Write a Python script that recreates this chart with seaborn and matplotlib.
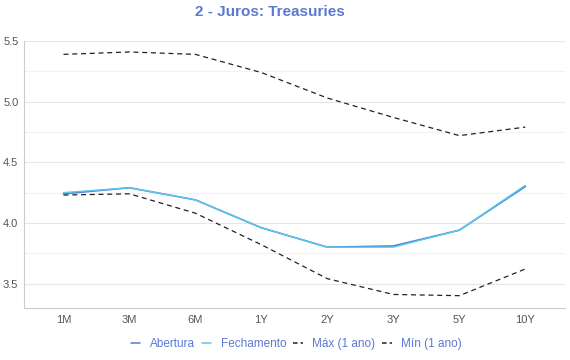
import matplotlib
matplotlib.use("Agg")
import matplotlib.pyplot as plt
import seaborn as sns
import pandas as pd
from matplotlib.ticker import MultipleLocator

categories = ["1M", "3M", "6M", "1Y", "2Y", "3Y", "5Y", "10Y"]
abertura = [4.24, 4.29, 4.19, 3.96, 3.80, 3.81, 3.94, 4.30]
fechamento = [4.25, 4.29, 4.19, 3.96, 3.80, 3.80, 3.94, 4.31]
maximo = [5.39, 5.41, 5.39, 5.24, 5.03, 4.87, 4.72, 4.79]
minimo = [4.23, 4.24, 4.08, 3.82, 3.54, 3.41, 3.40, 3.62]
series_names = ["Abertura", "Fechamento", "Máx (1 ano)", "Mín (1 ano)"]

rows = []
for name, vals in zip(series_names, [abertura, fechamento, maximo, minimo]):
    for i, (c, v) in enumerate(zip(categories, vals)):
        rows.append({"pos": i, "cat": c, "value": v, "serie": name})
df = pd.DataFrame(rows)

sns.set_style("white")
plt.rcParams["font.family"] = ["Liberation Sans", "DejaVu Sans"]

fig = plt.figure(figsize=(5.7, 3.6), dpi=100)
ax = fig.add_axes([0.042, 0.145, 0.949, 0.741])

palette = {"Abertura": "#4f7fd8", "Fechamento": "#5cc8ea",
           "Máx (1 ano)": "#222222", "Mín (1 ano)": "#222222"}
dashes = {"Abertura": "", "Fechamento": "", "Máx (1 ano)": (4, 3), "Mín (1 ano)": (4, 3)}
sizes = {"Abertura": 1.2, "Fechamento": 1.0, "Máx (1 ano)": 0.9, "Mín (1 ano)": 0.9}

sns.lineplot(data=df, x="pos", y="value", hue="serie", style="serie",
             size="serie", sizes=sizes, palette=palette, dashes=dashes,
             markers=False, ax=ax, legend=False, zorder=3)

ax.set_xlim(-0.6, 7.6)
ax.set_ylim(3.3, 5.5)
ax.set_xticks(range(len(categories)))
ax.set_xticklabels(categories)
ax.yaxis.set_major_locator(MultipleLocator(0.5))
ax.yaxis.set_minor_locator(MultipleLocator(0.25))
ax.yaxis.set_major_formatter(matplotlib.ticker.FormatStrFormatter("%.1f"))
ax.grid(True, axis="y", which="major", color="#e6e6e6", linewidth=0.8)
ax.grid(True, axis="y", which="minor", color="#f2f2f2", linewidth=0.8)
ax.set_axisbelow(True)
ax.set_xlabel("")
ax.set_ylabel("")
for s in ["top", "right"]:
    ax.spines[s].set_visible(False)
for s in ["left", "bottom"]:
    ax.spines[s].set_color("#cccccc")
    ax.spines[s].set_linewidth(0.8)
ax.tick_params(axis="both", which="both", length=0, labelsize=8, colors="#555555")
ax.tick_params(axis="x", pad=5)
ax.tick_params(axis="y", pad=4)

fig.suptitle("2 - Juros: Treasuries", x=0.474, y=0.985, fontsize=11,
             fontweight="bold", color="#5b78d2")

from matplotlib.lines import Line2D
handles = [Line2D([], [], color=palette[n], linewidth=1.1,
                  linestyle="-" if n in ("Abertura", "Fechamento") else (0, (3, 2)))
           for n in series_names]
leg = fig.legend(handles, series_names, loc="center", bbox_to_anchor=(0.52, 0.045),
                 ncol=4, frameon=False, fontsize=8.5, handlelength=0.8,
                 handletextpad=0.8, columnspacing=0.6)
for t in leg.get_texts():
    t.set_color("#5b78d2")

fig.savefig("out.png", dpi=100)
